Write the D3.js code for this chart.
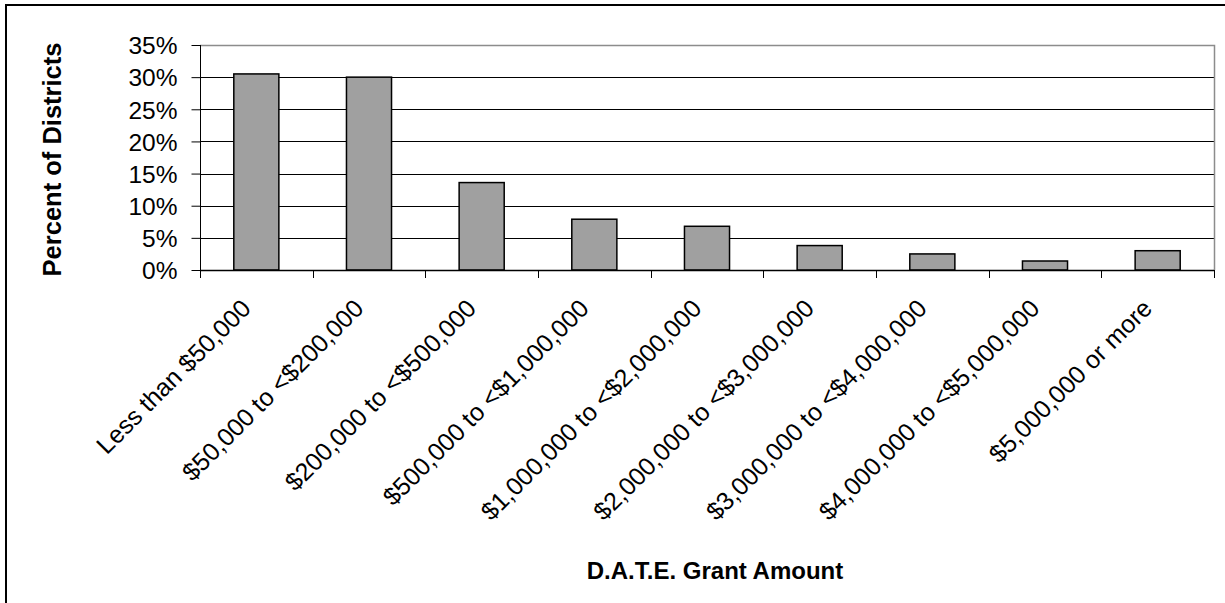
<!DOCTYPE html>
<html>
<head>
<meta charset="utf-8">
<script src="https://cdn.jsdelivr.net/npm/d3@7"></script>
<style>
  html, body { margin: 0; padding: 0; background: #fff; }
  svg { display: block; }
  text { font-family: "Liberation Sans", Arial, sans-serif; fill: #000; }
</style>
</head>
<body>
<svg id="chart" width="1225" height="603"></svg>
<script>
// Share of districts by D.A.T.E. grant amount
const categories = [
  "Less than $50,000",
  "$50,000 to <$200,000",
  "$200,000 to <$500,000",
  "$500,000 to <$1,000,000",
  "$1,000,000 to <$2,000,000",
  "$2,000,000 to <$3,000,000",
  "$3,000,000 to <$4,000,000",
  "$4,000,000 to <$5,000,000",
  "$5,000,000 or more"
];
const percentOfDistricts = [30.5, 30.0, 13.6, 7.9, 6.8, 3.8, 2.5, 1.4, 3.0];
const yTicks = [0, 5, 10, 15, 20, 25, 30, 35];
const yAxisTitle = "Percent of Districts";
const xAxisTitle = "D.A.T.E. Grant Amount";

const svg = d3.select("#chart");
const plot = { left: 200, right: 1214, top: 45, bottom: 270 };

// outer chart frame (runs off the right and bottom edges)
svg.append("rect")
  .attr("x", 6).attr("y", 5)
  .attr("width", 1240).attr("height", 620)
  .attr("fill", "none").attr("stroke", "#000").attr("stroke-width", 2);

const x = d3.scaleBand()
  .domain(categories)
  .range([plot.left, plot.right])
  .paddingInner(0.6)
  .paddingOuter(0.3);

const y = d3.scaleLinear()
  .domain([0, 35])
  .range([plot.bottom, plot.top]);

// horizontal gridlines
svg.append("g")
  .selectAll("line")
  .data(yTicks.filter(t => t > 0 && t < 35))
  .join("line")
  .attr("x1", plot.left).attr("x2", plot.right)
  .attr("y1", d => Math.round(y(d)) + 0.5).attr("y2", d => Math.round(y(d)) + 0.5)
  .attr("stroke", "#000").attr("stroke-width", 1.2);

// plot area border on top and right
svg.append("path")
  .attr("d", `M${plot.left},${plot.top + 0.5}H${plot.right + 0.5}V${plot.bottom}`)
  .attr("fill", "none").attr("stroke", "#8c8c8c").attr("stroke-width", 1.5);

// bars
svg.append("g")
  .selectAll("rect")
  .data(categories.map((c, i) => ({ c, v: percentOfDistricts[i] })))
  .join("rect")
  .attr("x", d => x(d.c))
  .attr("width", x.bandwidth())
  .attr("y", d => y(d.v))
  .attr("height", d => y(0) - y(d.v))
  .attr("fill", "#a0a0a0")
  .attr("stroke", "#000")
  .attr("stroke-width", 1.5);

// y axis
const yAxis = d3.axisLeft(y)
  .tickValues(yTicks)
  .tickSize(9)
  .tickPadding(14)
  .tickFormat(d => d + "%");
const gy = svg.append("g")
  .attr("transform", `translate(${plot.left + 0.5},0)`)
  .call(yAxis);
gy.select(".domain").attr("d", `M0,${plot.top}V${plot.bottom + 8}`).attr("stroke", "#000");
gy.selectAll(".tick line").attr("stroke", "#000");
gy.selectAll(".tick text")
  .style("font-family", "'Liberation Sans', Arial, sans-serif")
  .style("font-size", "24.5px")
  .attr("dy", "0.36em");

// x axis: ticks on category boundaries
const boundaries = d3.range(categories.length + 1).map(i => plot.left + i * (plot.right - plot.left) / categories.length);
svg.append("line")
  .attr("x1", plot.left).attr("x2", plot.right)
  .attr("y1", plot.bottom + 0.5).attr("y2", plot.bottom + 0.5)
  .attr("stroke", "#000").attr("stroke-width", 1.5);
svg.append("g")
  .selectAll("line")
  .data(boundaries)
  .join("line")
  .attr("x1", d => Math.round(d) + 0.5).attr("x2", d => Math.round(d) + 0.5)
  .attr("y1", plot.bottom).attr("y2", plot.bottom + 8)
  .attr("stroke", "#000");

// rotated category labels
svg.append("g")
  .selectAll("text")
  .data(categories)
  .join("text")
  .attr("transform", d => `translate(${x(d) + x.bandwidth() / 2 - 4},${plot.bottom + 40}) rotate(-45)`)
  .attr("text-anchor", "end")
  .style("font-size", "25px")
  .text(d => d);

// axis titles
svg.append("text")
  .attr("transform", `translate(61,${(plot.top + plot.bottom) / 2 + 2}) rotate(-90)`)
  .attr("text-anchor", "middle")
  .style("font-size", "25.5px")
  .style("font-weight", "bold")
  .text(yAxisTitle);

svg.append("text")
  .attr("x", 715)
  .attr("y", 579)
  .attr("text-anchor", "middle")
  .style("font-size", "24px")
  .style("font-weight", "bold")
  .text(xAxisTitle);
</script>
</body>
</html>
